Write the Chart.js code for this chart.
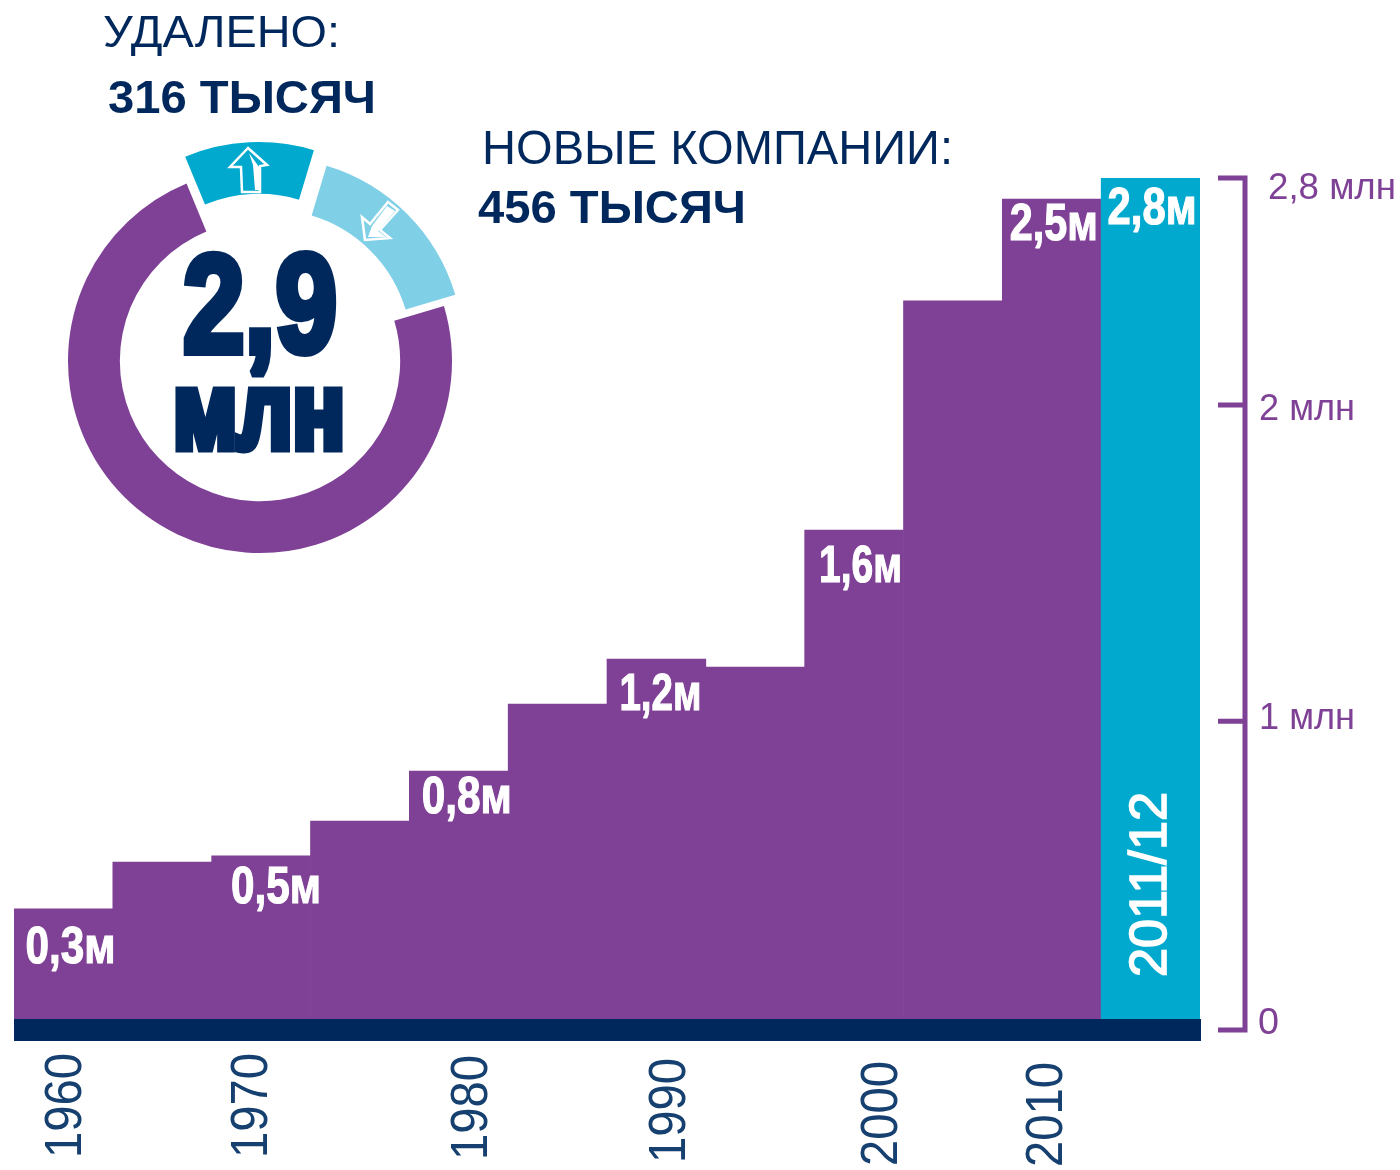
<!DOCTYPE html>
<html lang="ru">
<head>
<meta charset="utf-8">
<title>Новые компании</title>
<style>
html,body{margin:0;padding:0;background:#fff;width:1400px;height:1170px;overflow:hidden}
canvas{position:absolute;display:block}
#main{left:0;top:0}
#ring{left:10px;top:111px}
</style>
<script src="https://cdn.jsdelivr.net/npm/chart.js@4"></script>
</head>
<body>
<canvas id="main" width="1400" height="1170"></canvas>
<canvas id="ring" width="500" height="500"></canvas>
<script>
// ---------- data ----------
const categories = ['1960','1965','1970','1975','1980','1985','1990','1995','2000','2005','2010','2011/12'];
const companies = [0.398,0.552,0.572,0.687,0.851,1.071,1.219,1.193,1.643,2.396,2.731,2.8];
const barLabels = ['0,3м',null,'0,5м',null,'0,8м',null,'1,2м',null,'1,6м',null,'2,5м','2,8м'];
const yTickValues = [0,1.015,2.054,2.8];
const yTickLabels = ['0','1 млн','2 млн','2,8 млн'];
const ringLabels = ['Удалено','Новые компании','Остальные'];
const ringValues = [316,456,2128];

// ---------- style ----------
const PURPLE='#7f4196', CYAN='#00a9cd', LIGHT='#7fcfe6', NAVY='#00285c', AXISTEXT='#16406f';
const SANS='"Liberation Sans", Arial, sans-serif';

function fitText(ctx,text,x,y,width,font,color,stroke){
  ctx.save();
  ctx.font=font;
  const m=ctx.measureText(text).width;
  ctx.translate(x,y);
  ctx.scale(width/m,1);
  ctx.fillStyle=color;
  ctx.textAlign='left';
  ctx.textBaseline='alphabetic';
  if(stroke){ctx.strokeStyle=color;ctx.lineWidth=stroke;ctx.lineJoin='miter';ctx.miterLimit=2;ctx.strokeText(text,0,0);}
  ctx.fillText(text,0,0);
  ctx.restore();
}
function rotText(ctx,text,cx,bottom,length,font,color,stroke){
  ctx.save();
  ctx.translate(cx,bottom);
  ctx.rotate(-Math.PI/2);
  fitText(ctx,text,0,0,length,font,color,stroke);
  ctx.restore();
}

// nudges of the hand-placed labels relative to their bar: [dx of left edge, dy of baseline, width]
const barLabelPlace={0:[-38,54,90],2:[-30,47,90],4:[-37,42,90],6:[-37,51,82],8:[-35,52,83],10:[-42,41,88],11:[-43,46,89]};
// baseline x offset of year labels from their bar centre and the y of their start
const yearPlace={0:[18,1158],2:[6,1158],4:[28,1160],6:[29,1163],8:[43,1166],10:[10,1167]};
// y-axis label placement relative to tick: [left x, dy of baseline, width]
const yLabelPlace=[[1258,4,21],[1259,8,96],[1259,15,96],[1268,21,128]];

const decorPlugin={
  id:'decor',
  afterDatasetsDraw(chart){
    const {ctx,scales:{x,y}}=chart;
    // navy base strip spanning the x scale
    const base=y.getPixelForValue(0);
    ctx.save();
    ctx.fillStyle=NAVY;
    ctx.fillRect(x.left,base-11,x.right-x.left+1,22);
    ctx.restore();
    // value labels on bars
    barLabels.forEach((t,i)=>{
      if(!t)return;
      const p=barLabelPlace[i];
      fitText(ctx,t,x.getPixelForValue(i)+p[0],y.getPixelForValue(companies[i])+p[1],p[2],'bold 52px '+SANS,'#fff',1.2);
    });
    // year labels
    categories.forEach((t,i)=>{
      if(yearPlace[i])rotText(ctx,t,x.getPixelForValue(i)+yearPlace[i][0],yearPlace[i][1],105,'52px '+SANS,AXISTEXT);
    });
    rotText(ctx,categories[11],x.getPixelForValue(11)+15,977,185,'51px '+SANS,'#fff',1.6);
    // purple axis bracket
    const ticks=y.ticks;
    const axisX=1245;
    ctx.save();
    ctx.strokeStyle=PURPLE;ctx.lineWidth=5;ctx.lineCap='butt';ctx.lineJoin='miter';
    ctx.beginPath();
    ctx.moveTo(axisX,y.getPixelForValue(ticks[0].value));
    ctx.lineTo(axisX,y.getPixelForValue(ticks[ticks.length-1].value));
    ticks.forEach(t=>{
      const py=y.getPixelForValue(t.value);
      ctx.moveTo(1218,py);ctx.lineTo(axisX+2.5,py);
    });
    ctx.stroke();
    ctx.restore();
    ticks.forEach((t,i)=>{
      const p=yLabelPlace[i];
      fitText(ctx,yTickLabels[i],p[0],y.getPixelForValue(t.value)+p[1],p[2],'37px '+SANS,PURPLE);
    });
    // headings
    fitText(ctx,'УДАЛЕНО:',103,47,237,'45px '+SANS,NAVY);
    fitText(ctx,'316 ТЫСЯЧ',108,113,268,'bold 47px '+SANS,NAVY);
    fitText(ctx,'НОВЫЕ КОМПАНИИ:',482,164,471,'49px '+SANS,NAVY);
    fitText(ctx,'456 ТЫСЯЧ',478,223,268,'bold 47px '+SANS,NAVY);
  }
};

new Chart(document.getElementById('main'),{
  type:'bar',
  data:{labels:categories,datasets:[{
    label:'Компании',
    data:companies,
    backgroundColor:categories.map((c,i)=>i===categories.length-1?CYAN:PURPLE),
    borderWidth:0,
    barPercentage:1,
    categoryPercentage:1
  }]},
  options:{
    responsive:false,animation:false,devicePixelRatio:1,
    layout:{padding:{left:14,right:200,top:178,bottom:140}},
    plugins:{legend:{display:false},tooltip:{enabled:false},title:{display:false}},
    scales:{
      x:{display:false,grid:{display:false}},
      y:{
        display:false,min:0,max:2.8,
        afterBuildTicks(s){s.ticks=yTickValues.map(v=>({value:v}));}
      }
    }
  },
  plugins:[decorPlugin]
});

function arrow(ctx,pts,fillPts){
  ctx.save();
  ctx.strokeStyle='#fff';ctx.lineWidth=2.5;ctx.lineJoin='miter';
  ctx.beginPath();
  pts.forEach((p,i)=>i?ctx.lineTo(p[0],p[1]):ctx.moveTo(p[0],p[1]));
  ctx.closePath();ctx.stroke();
  ctx.fillStyle='#fff';
  ctx.beginPath();
  fillPts.forEach((p,i)=>i?ctx.lineTo(p[0],p[1]):ctx.moveTo(p[0],p[1]));
  ctx.closePath();ctx.fill();
  ctx.restore();
}
// how far each ring segment is pulled out along its middle angle
const ringExplode=[27,16,0];
const ringDecor={
  id:'ringDecor',
  afterUpdate(chart){
    chart.getDatasetMeta(0).data.forEach((arc,i)=>{
      const base=arc.draw;
      arc.draw=function(ctx,area){
        const mid=(this.startAngle+this.endAngle)/2;
        ctx.save();
        ctx.translate(Math.cos(mid)*ringExplode[i],Math.sin(mid)*ringExplode[i]);
        base.call(this,ctx,area);
        ctx.restore();
      };
    });
  },
  afterDatasetsDraw(chart){
    const {ctx}=chart;
    const ox=(chart.chartArea.left+chart.chartArea.right)/2, oy=(chart.chartArea.top+chart.chartArea.bottom)/2;
    fitText(ctx,'2,9',ox-77,oy-9,154,'bold 140px '+SANS,NAVY,8);
    fitText(ctx,'млн',ox-87,oy+87,172,'bold 108px '+SANS,NAVY,9);
    const o=(x,y)=>[ox+x,oy+y];
    arrow(ctx,[o(-12,-213),o(-30,-194),o(-19,-194),o(-18,-169),o(0,-169),o(0,-195),o(7,-196)],
              [o(-11,-208),o(-7,-196),o(-5,-171),o(-1,-171),o(-1,-194)]);
    arrow(ctx,[o(105,-121),o(102,-144),o(110,-137),o(128,-159),o(138,-151),o(120,-131),o(130,-123)],
              [o(112,-135),o(127,-155),o(135,-150),o(118,-130),o(126,-124),o(108,-124)]);
  }
};
new Chart(document.getElementById('ring'),{
  type:'doughnut',
  data:{labels:ringLabels,datasets:[{
    data:ringValues,
    backgroundColor:[CYAN,LIGHT,PURPLE],
    borderWidth:0,
    clip:false
  }]},
  options:{
    responsive:false,animation:false,devicePixelRatio:1,
    rotation:-22.5,cutout:'73%',
    layout:{padding:58},
    plugins:{legend:{display:false},tooltip:{enabled:false}}
  },
  plugins:[ringDecor]
});
</script>
</body>
</html>
